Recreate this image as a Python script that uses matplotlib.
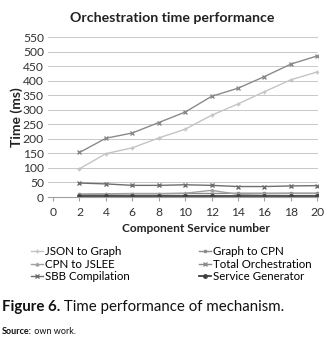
import matplotlib
matplotlib.use("Agg")
import matplotlib.pyplot as plt

plt.rcParams['font.family'] = ['Lato', 'DejaVu Sans']

# datos
services = [2, 4, 6, 8, 10, 12, 14, 16, 18, 20]
json_to_graph = [97, 149, 169, 203, 233, 281, 320, 362, 403, 430]
graph_to_cpn = [9, 10, 11, 11, 12, 12, 13, 13, 13, 13]
cpn_to_jslee = [10, 11, 12, 12, 13, 23, 9, 11, 12, 12]
total_orch = [153, 202, 220, 256, 292, 346, 374, 414, 457, 485]
sbb_compilation = [48, 45, 40, 40, 42, 40, 36, 36, 38, 39]
service_generator = [3, 3, 3, 3, 3, 3, 3, 3, 3, 3]

fig = plt.figure(figsize=(3.32, 3.57), dpi=100)
ax = fig.add_axes([48/332, 1 - 197/357, 270/332, 160/357])

l1, = ax.plot(services, json_to_graph, color="#c4c4c4", marker="+", ms=3, lw=1, label="JSON to Graph")
l2, = ax.plot(services, graph_to_cpn, color="#8c8c8c", marker="s", ms=2, lw=1, label="Graph to CPN")
l3, = ax.plot(services, cpn_to_jslee, color="#a0a0a0", marker="^", ms=2, lw=1, label="CPN to JSLEE")
l4, = ax.plot(services, total_orch, color="#8a8a8a", marker="x", ms=3, lw=1, label="Total Orchestration")
l5, = ax.plot(services, sbb_compilation, color="#6e6e6e", marker="x", ms=3, lw=1, label="SBB Compilation")
l6, = ax.plot(services, service_generator, color="#404040", marker="o", ms=2.5, lw=1.3, label="Service Generator")

ax.set_xlim(-0.38, 20.05)
ax.set_ylim(0, 550)
ax.set_xticks(range(0, 21, 2))
ax.set_yticks(range(0, 551, 50))
ax.yaxis.grid(True, color="#c8c8c8", lw=0.7)
ax.set_axisbelow(True)
for s in ["top", "right", "left"]:
    ax.spines[s].set_visible(False)
ax.spines["bottom"].set_color("#a0a0a0")
ax.tick_params(axis="y", length=0, labelsize=8.7, colors="#333333", pad=3)
ax.tick_params(axis="x", length=3, color="#a0a0a0", labelsize=8.7, labelcolor="#333333", pad=4)

fig.text(172/332, 1 - 18/357, "Orchestration time performance", ha="center", va="center",
         fontsize=10.2, fontweight="bold", color="#222222")
fig.text(17/332, 1 - 117/357, "Time (ms)", rotation=90, ha="center", va="center",
         fontsize=10, fontweight="bold", color="#222222")
fig.text(196/332, 1 - 229/357, "Component Service number", ha="center", va="center",
         fontsize=8.6, fontweight="bold", color="#222222")

leg_kw = dict(loc="upper left", frameon=False, fontsize=8.3, handlelength=1.0,
              handletextpad=0.2, labelspacing=0.15, borderpad=0, borderaxespad=0)
fig.legend(handles=[l1, l3, l5], bbox_to_anchor=(31/332, 1 - 246/357), **leg_kw)
fig.legend(handles=[l2, l4, l6], bbox_to_anchor=(199/332, 1 - 246/357), **leg_kw)

# leyenda de la figura
renderer = fig.canvas.get_renderer()
t1 = fig.text(2/332, 1 - 307/357, "Figure 6.", ha="left", va="center", fontsize=10.8,
              fontweight="bold", color="#111111")
bb = t1.get_window_extent(renderer).transformed(fig.transFigure.inverted())
fig.text(bb.x1, 1 - 307/357, " Time performance of mechanism.", ha="left", va="center",
         fontsize=10.8, color="#111111")
t2 = fig.text(2/332, 1 - 332/357, "Source:", ha="left", va="center", fontsize=6.5,
              fontweight="bold", color="#111111")
bb2 = t2.get_window_extent(renderer).transformed(fig.transFigure.inverted())
fig.text(bb2.x1, 1 - 332/357, " own work.", ha="left", va="center", fontsize=6.5, color="#111111")

fig.savefig("out.png", dpi=100)
